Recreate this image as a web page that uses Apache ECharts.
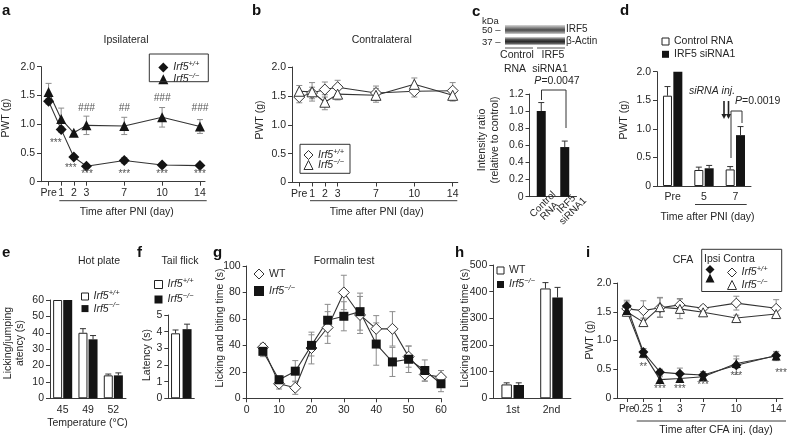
<!DOCTYPE html>
<html><head><meta charset="utf-8">
<script src="https://cdn.jsdelivr.net/npm/echarts@6/dist/echarts.min.js"></script>
<style>html,body{margin:0;padding:0;background:#fff}#c{width:788px;height:435px}</style>
</head><body><div id="c"></div>
<script>
// ---------------- DATA ----------------
const pniLabels = ['Pre','1','2','3','7','10','14'];
const pniPos = [0,1,2,3,6,9,12];
const aWT = [1.40,0.91,0.43,0.27,0.37,0.29,0.28];
const aWTErr = [0.05,0.05,0.03,0.03,0.05,0.03,0.03];
const aKO = [1.56,1.09,0.85,0.98,0.97,1.12,0.96];
const aKOErr = [0.15,0.19,0.03,0.16,0.15,0.17,0.12];
const aStars = ['***','***','***','***','***','***'];
const aHash = ['###','##','###','###'];

const bWT = [1.48,1.55,1.61,1.65,1.55,1.58,1.59];
const bWTErr = [0.10,0.10,0.13,0.12,0.12,0.10,0.14];
const bKO = [1.58,1.57,1.39,1.53,1.51,1.70,1.51];
const bKOErr = [0.10,0.16,0.13,0.10,0.12,0.11,0.10];

const cCats = ['Control\nRNA','IRF5\nsiRNA1'];
const cVal = [1.0,0.58];
const cErr = [0.10,0.07];

const dCats = ['Pre','5','7'];
const dCtrl = [1.58,0.28,0.29];
const dCtrlErr = [0.16,0.05,0.05];
const dSi = [2.0,0.31,0.89];
const dSiErr = [0,0.05,0.15];

const eCats = ['45','49','52'];
const eWT = [60,40,14];
const eWTErr = [0,2.5,0.8];
const eKO = [60,36,14];
const eKOErr = [0,2.3,1.5];

const fWT = [3.9];
const fWTErr = [0.2];
const fKO = [4.15];
const fKOErr = [0.3];

const gMin = [5,10,15,20,25,30,35,40,45,50,55,60];
const gWT = [38.5,11,8,38,53.5,80,63,52.5,52.5,31.5,18,16];
const gWTErr = [3,4,5,12,12,13,14,10,13,8,5,5];
const gKO = [35.5,14,20.5,40,59,62,65.5,41,27.5,29.5,21,11];
const gKOErr = [4,3,8,8,12,11,14,16,11,10,8,6];

const hCats = ['1st','2nd'];
const hWT = [52,412];
const hWTErr = [6,22];
const hKO = [50,378];
const hKOErr = [8,38];

const cfaLabels = ['Pre','0.25','1','3','7','10','14'];
const cfaPos = [0,1,2,3.2,4.6,6.6,9];
const iIpsiWT = [1.60,0.80,0.45,0.42,0.40,0.57,0.74];
const iIpsiWTErr = [0.10,0.06,0.05,0.10,0.06,0.16,0.06];
const iIpsiKO = [1.52,0.78,0.32,0.34,0.37,0.60,0.73];
const iIpsiKOErr = [0.05,0.08,0.05,0.05,0.05,0.08,0.08];
const iConWT = [1.55,1.52,1.57,1.62,1.56,1.65,1.56];
const iConWTErr = [0.12,0.17,0.17,0.11,0.05,0.12,0.15];
const iConKO = [1.50,1.32,1.58,1.55,1.49,1.39,1.46];
const iConKOErr = [0.05,0.07,0.17,0.17,0.05,0.05,0.07];
const iStars = ['**','***','***','***','***','***'];

// ---------------- STYLE ----------------
const F = "'Liberation Sans', Arial, Helvetica, sans-serif";
const TXT = '#262626', AX = '#3a3a3a', ERR = '#8c8c8c', LN = '#333', BLK = '#141414';
const FS = 10.5;

const grids = [
  {left:41, top:66.7, width:164, height:115},      // a
  {left:292, top:67, width:165.8, height:115.5},   // b
  {left:529.5, top:94, width:47, height:102.7},    // c
  {left:657, top:71.7, width:94, height:114.3},    // d
  {left:50, top:300, width:76, height:98.3},       // e
  {left:168.3, top:315, width:26, height:83.3},    // f
  {left:246.7, top:266, width:194.3, height:132.3},// g
  {left:493.3, top:265, width:77.6, height:133.3}, // h
  {left:617.3, top:283, width:165.5, height:115}   // i
];

const dec = v => v === 0 ? '0' : v.toFixed(1);
function yAx(g, min, max, interval, fmt) {
  return {type:'value', gridIndex:g, min, max, interval,
    axisLine:{show:true, onZero:false, lineStyle:{color:AX, width:1}},
    axisTick:{show:true, length:4, lineStyle:{color:AX}},
    splitLine:{show:false},
    axisLabel:{color:TXT, fontSize:FS, fontFamily:F, margin:6, formatter:fmt, hideOverlap:false}};
}
function xVal(g, min, max, tickPos, labelPos, pos, labels, fs, hidden) {
  return {type:'value', gridIndex:g, min, max, position:'bottom', offset:0,
    axisLine:{show:!hidden, onZero:false, lineStyle:{color:AX}},
    axisTick:{show:!hidden, length:4, customValues:tickPos, lineStyle:{color:AX}},
    splitLine:{show:false},
    axisLabel:{customValues:labelPos, color:TXT, fontSize:fs || FS, fontFamily:F, margin:6, hideOverlap:false,
      showMinLabel:true, showMaxLabel:true,
      formatter: v => { const k = pos.findIndex(p => Math.abs(p - v) < 1e-6); return k >= 0 ? labels[k] : ''; }}};
}
function xCat(g, data, extra) {
  return Object.assign({type:'category', gridIndex:g, data,
    axisLine:{show:true, onZero:false, lineStyle:{color:AX}},
    axisTick:{show:false},
    axisLabel:{color:TXT, fontSize:FS, fontFamily:F, margin:6, interval:0, hideOverlap:false}}, extra || {});
}

const xAxis = [
  xVal(0, -0.6, 12.4, pniPos, pniPos, pniPos, pniLabels),
  xVal(1, -0.57, 12.4, pniPos, pniPos, pniPos, pniLabels),
  xCat(2, cCats, {axisLabel:{color:TXT, fontSize:10, fontFamily:F, margin:16, rotate:45, align:'center',
    verticalAlign:'middle', lineHeight:9.5, padding:[0,0,0,14], interval:0, hideOverlap:false}}),
  xCat(3, dCats),
  xCat(4, eCats),
  xCat(5, [''], {axisLabel:{show:false}}),
  {type:'value', gridIndex:6, min:0, max:60, interval:10,
    axisLine:{show:true, onZero:false, lineStyle:{color:AX}},
    axisTick:{show:true, length:4, lineStyle:{color:AX}}, splitLine:{show:false},
    axisLabel:{color:TXT, fontSize:FS, fontFamily:F, margin:6}},
  xCat(7, hCats),
  // i: main axis (all ticks, labels except the crowded second one) + label-only twin axis
  xVal(8, -0.57, 9.4, cfaPos, cfaPos.filter((p, k) => k !== 1), cfaPos, cfaLabels, 10),
  xVal(8, -0.57, 9.4, [], [cfaPos[1]], cfaPos, cfaLabels, 10, true)
];
const yAxis = [
  yAx(0, 0, 2, 0.5, dec), yAx(1, 0, 2, 0.5, dec), yAx(2, 0, 1.2, 0.2, dec),
  yAx(3, 0, 2, 0.5, dec), yAx(4, 0, 60, 10), yAx(5, 0, 5, 1),
  yAx(6, 0, 100, 20), yAx(7, 0, 500, 100), yAx(8, 0, 2, 0.5, dec)
];

const series = [];
const filled = {color:BLK, borderWidth:0};
const hollow = {color:'#fff', borderColor:LN, borderWidth:1};

function pairs(pos, vals) { return vals.map((v, k) => [pos[k], v]); }
function triples(pos, vals, errs) { return vals.map((v, k) => [pos[k], v, errs[k]]); }

function errSeries(g, data, opt) {
  opt = opt || {};
  series.push({type:'custom', xAxisIndex:g, yAxisIndex:g, z:1, silent:true, clip:false, data,
    renderItem: (p, api) => {
      const x = api.value(0), y = api.value(1), e = api.value(2);
      if (!(e > 0)) return null;
      const top = api.coord([x, y + e]), mid = api.coord([x, y]), bot = api.coord([x, y - e]);
      const X = top[0] + (opt.dx || 0), cw = opt.cap || 3;
      const st = {stroke: opt.color || ERR, lineWidth: 1};
      const ch = [
        {type:'line', shape:{x1:X, y1:top[1], x2:X, y2: opt.up ? mid[1] : bot[1]}, style:st},
        {type:'line', shape:{x1:X - cw, y1:top[1], x2:X + cw, y2:top[1]}, style:st}
      ];
      if (!opt.up) ch.push({type:'line', shape:{x1:X - cw, y1:bot[1], x2:X + cw, y2:bot[1]}, style:st});
      return {type:'group', children:ch};
    }});
}
function lineSeries(g, name, data, symbol, size, style) {
  series.push({type:'line', name, xAxisIndex:g, yAxisIndex:g, z:3, data, symbol, symbolSize:size,
    showSymbol:true, lineStyle:{color:LN, width:1.1}, itemStyle:style, emphasis:{disabled:true}});
}
function barSeries(g, name, data, w, gap, style) {
  series.push({type:'bar', name, xAxisIndex:g, yAxisIndex:g, z:2, data, barWidth:w, barGap:gap,
    itemStyle:style, emphasis:{disabled:true}});
}
function annSeries(g, items, texts, fontStyle) {
  series.push({type:'custom', xAxisIndex:g, yAxisIndex:g, z:5, silent:true, clip:false,
    data: items,
    renderItem: (p, api) => {
      const c = api.coord([api.value(0), api.value(1)]);
      return {type:'text', x:c[0], y:c[1], style:{text:texts[p.dataIndex], fill:'#555', fontSize:10,
        fontFamily:F, fontStyle:fontStyle || 'normal', align:'center', verticalAlign:'middle'}};
    }});
}

// a
errSeries(0, triples(pniPos, aKO, aKOErr));
errSeries(0, triples(pniPos, aWT, aWTErr));
lineSeries(0, 'a_wt', pairs(pniPos, aWT), 'diamond', 11, filled);
lineSeries(0, 'a_ko', pairs(pniPos, aKO), 'triangle', 10, filled);
annSeries(0, [[0.57,0.67],[1.76,0.24],[3.05,0.13],[6,0.13],[9,0.13],[12,0.13]], aStars);
annSeries(0, [[3,1.28],[6,1.28],[9,1.46],[12,1.28]], aHash, 'italic');
// b
errSeries(1, triples(pniPos, bWT, bWTErr));
errSeries(1, triples(pniPos, bKO, bKOErr));
lineSeries(1, 'b_wt', pairs(pniPos, bWT), 'diamond', 11, hollow);
lineSeries(1, 'b_ko', pairs(pniPos, bKO), 'triangle', 10, hollow);
// c
barSeries(2, 'c_bar', cVal, 9, '0%', {color:BLK});
errSeries(2, triples([0,1], cVal, cErr), {up:true, color:'#333', cap:3});
// d
const dW = 9, dGap = 0.15, dOff = dW * (1 + dGap) / 2;
barSeries(3, 'd_ctrl', dCtrl, dW, (dGap*100)+'%', {color:'#fff', borderColor:'#222', borderWidth:1});
barSeries(3, 'd_si', dSi, dW, (dGap*100)+'%', {color:BLK});
errSeries(3, triples([0,1,2], dCtrl, dCtrlErr), {up:true, color:'#333', dx:-dOff, cap:3});
errSeries(3, triples([0,1,2], dSi, dSiErr), {up:true, color:'#333', dx:dOff, cap:3});
// e
const eW = 9, eGap = 0.12, eOff = eW * (1 + eGap) / 2;
barSeries(4, 'e_wt', eWT, eW, (eGap*100)+'%', {color:'#fff', borderColor:'#222', borderWidth:1});
barSeries(4, 'e_ko', eKO, eW, (eGap*100)+'%', {color:BLK});
errSeries(4, triples([0,1,2], eWT, eWTErr), {up:true, color:'#333', dx:-eOff, cap:3});
errSeries(4, triples([0,1,2], eKO, eKOErr), {up:true, color:'#333', dx:eOff, cap:3});
// f
const fW = 9, fGap = 0.28, fOff = fW * (1 + fGap) / 2;
barSeries(5, 'f_wt', fWT, fW, (fGap*100)+'%', {color:'#fff', borderColor:'#222', borderWidth:1});
barSeries(5, 'f_ko', fKO, fW, (fGap*100)+'%', {color:BLK});
errSeries(5, triples([0], fWT, fWTErr), {up:true, color:'#333', dx:-fOff, cap:3});
errSeries(5, triples([0], fKO, fKOErr), {up:true, color:'#333', dx:fOff, cap:3});
// g
errSeries(6, triples(gMin, gWT, gWTErr));
errSeries(6, triples(gMin, gKO, gKOErr));
lineSeries(6, 'g_wt', pairs(gMin, gWT), 'diamond', 11, hollow);
lineSeries(6, 'g_ko', pairs(gMin, gKO), 'rect', 9, filled);
// h
const hW = 10.5, hGap = 0.15, hOff = hW * (1 + hGap) / 2;
barSeries(7, 'h_wt', hWT, hW, (hGap*100)+'%', {color:'#fff', borderColor:'#222', borderWidth:1});
barSeries(7, 'h_ko', hKO, hW, (hGap*100)+'%', {color:BLK});
errSeries(7, triples([0,1], hWT, hWTErr), {up:true, color:'#333', dx:-hOff, cap:3});
errSeries(7, triples([0,1], hKO, hKOErr), {up:true, color:'#333', dx:hOff, cap:3});
// i
errSeries(8, triples(cfaPos, iConWT, iConWTErr));
errSeries(8, triples(cfaPos, iConKO, iConKOErr));
errSeries(8, triples(cfaPos, iIpsiWT, iIpsiWTErr));
errSeries(8, triples(cfaPos, iIpsiKO, iIpsiKOErr));
lineSeries(8, 'i_cwt', pairs(cfaPos, iConWT), 'diamond', 10, hollow);
lineSeries(8, 'i_cko', pairs(cfaPos, iConKO), 'triangle', 9, hollow);
lineSeries(8, 'i_iwt', pairs(cfaPos, iIpsiWT), 'diamond', 10, filled);
lineSeries(8, 'i_iko', pairs(cfaPos, iIpsiKO), 'triangle', 9, filled);
annSeries(8, [[1,0.54],[2,0.15],[3.2,0.15],[4.6,0.22],[6.6,0.37],[9.29,0.43]], iStars);

// ---------------- LEGENDS ----------------
const WTSUP = '{i|Irf5}{s|+/+}', KOSUP = '{i|Irf5}{s|\u2212/\u2212}';
const LBL = {a_wt:WTSUP, a_ko:KOSUP, b_wt:WTSUP, b_ko:KOSUP,
  d_ctrl:'{p|Control RNA}', d_si:'{p|IRF5 siRNA1}', e_wt:WTSUP, e_ko:KOSUP, f_wt:WTSUP, f_ko:KOSUP,
  g_wt:'{p|WT}', g_ko:KOSUP, h_wt:'{p|WT}', h_ko:KOSUP, i_cwt:WTSUP, i_cko:KOSUP, i_iwt:'', i_iko:''};
const rich = {
  i:{fontStyle:'italic', fontSize:FS, fontFamily:F, color:TXT, lineHeight:15},
  s:{fontStyle:'italic', fontSize:7.5, fontFamily:F, color:TXT, verticalAlign:'top', lineHeight:9},
  p:{fontSize:FS, fontFamily:F, color:TXT, lineHeight:15}
};
function leg(left, top, gap, iw, items) {
  return {show:true, orient:'vertical', left, top, itemGap:gap, itemWidth:iw, itemHeight:iw, padding:0,
    selectedMode:false, formatter: n => LBL[n], textStyle:{rich, fontFamily:F, fontSize:FS, color:TXT},
    data: items.map(d => ({name:d[0], icon:d[1], itemStyle:d[2]}))};
}
const openBox = {color:'#fff', borderColor:'#222', borderWidth:1};
const legend = [
  leg(158.3, 60, -1.3, 10, [['a_wt','diamond',filled],['a_ko','triangle',filled]]),
  leg(303.5, 147.5, -3, 9, [['b_wt','diamond',hollow],['b_ko','triangle',hollow]]),
  leg(661.5, 36, 1.8, 7, [['d_ctrl','rect',openBox],['d_si','rect',{color:BLK}]]),
  leg(81, 289, -0.9, 7, [['e_wt','rect',openBox],['e_ko','rect',{color:BLK}]]),
  leg(154, 277, 2, 8, [['f_wt','rect',openBox],['f_ko','rect',{color:BLK}]]),
  leg(253.5, 268.5, 4, 10, [['g_wt','diamond',hollow],['g_ko','rect',filled]]),
  leg(496.5, 265, 1, 7, [['h_wt','rect',openBox],['h_ko','rect',{color:BLK}]]),
  leg(705.5, 265, -0.5, 9, [['i_iwt','diamond',filled],['i_iko','triangle',filled]]),
  leg(727, 265, -0.5, 9, [['i_cwt','diamond',hollow],['i_cko','triangle',hollow]])
];

// ---------------- GRAPHICS (labels, titles, annotations) ----------------
function T(x, y, text, o) {
  o = o || {};
  return {type:'text', x, y, rotation:o.rot || 0, z:100, silent:true,
    style:{text, fill:o.color || TXT, fontSize:o.size || FS, fontFamily:F,
      fontWeight:o.weight || 'normal', fontStyle:o.style || 'normal',
      align:o.align || 'center', verticalAlign:'middle', lineHeight:o.lh, rich:o.rich}};
}
function L(x1, y1, x2, y2, c, w) {
  return {type:'line', z:100, silent:true, shape:{x1, y1, x2, y2}, style:{stroke:c || AX, lineWidth:w || 1}};
}
function R(x, y, w, h, fill, stroke) {
  return {type:'rect', z:99, silent:true, shape:{x, y, width:w, height:h}, style:{fill:fill || 'none', stroke:stroke || null, lineWidth:1}};
}
function arrow(x, y1, y2) {
  return [L(x, y1, x, y2 - 4, '#222', 1.6),
    {type:'polygon', z:100, silent:true, shape:{points:[[x - 2.6, y2 - 5], [x + 2.6, y2 - 5], [x, y2]]}, style:{fill:'#222'}}];
}
const R90 = Math.PI / 2;
const bandGrad = (a, b) => new echarts.graphic.LinearGradient(0, 0, 0, 1, [
  {offset:0, color:'#d8d8d8'}, {offset:0.3, color:a}, {offset:0.55, color:b}, {offset:0.8, color:a}, {offset:1, color:'#d0d0d0'}]);
const pRich = {it:{fontStyle:'italic', fontSize:FS, fontFamily:F, color:TXT}, n:{fontSize:FS, fontFamily:F, color:TXT}};

const graphic = [
  // panel letters
  T(2, 11, 'a', {weight:'bold', size:15, align:'left', color:'#111'}),
  T(252, 11, 'b', {weight:'bold', size:15, align:'left', color:'#111'}),
  T(472, 12, 'c', {weight:'bold', size:15, align:'left', color:'#111'}),
  T(620, 11, 'd', {weight:'bold', size:15, align:'left', color:'#111'}),
  T(2, 253, 'e', {weight:'bold', size:15, align:'left', color:'#111'}),
  T(137, 253, 'f', {weight:'bold', size:15, align:'left', color:'#111'}),
  T(213, 253, 'g', {weight:'bold', size:15, align:'left', color:'#111'}),
  T(455, 253, 'h', {weight:'bold', size:15, align:'left', color:'#111'}),
  T(586, 253, 'i', {weight:'bold', size:15, align:'left', color:'#111'}),
  // titles
  T(126, 40, 'Ipsilateral'), T(381.7, 40, 'Contralateral'),
  T(99, 261, 'Hot plate'), T(180, 261, 'Tail flick'), T(344, 261, 'Formalin test'), T(683, 260, 'CFA'),
  // x titles and underlines
  L(59.3, 200.7, 206.7, 200.7), T(126.7, 211.7, 'Time after PNI (day)'),
  L(310, 200.7, 457.3, 200.7), T(376.7, 211.7, 'Time after PNI (day)'),
  L(695, 204.5, 746.7, 204.5), T(707.5, 216.7, 'Time after PNI (day)'),
  T(87.5, 422.7, 'Temperature (\u00b0C)'),
  L(636.7, 421, 786, 421), T(716, 430.5, 'Time after CFA inj. (day)'),
  // y titles
  T(6, 118, 'PWT (g)', {rot:R90}), T(260, 120, 'PWT (g)', {rot:R90}),
  T(624, 120, 'PWT (g)', {rot:R90}), T(590, 340, 'PWT (g)', {rot:R90}),
  T(489, 140, 'Intensity ratio\n(relative to control)', {rot:R90, lh:13}),
  T(14, 343, 'Licking/jumping\natency (s)', {rot:R90, lh:12.5}),
  T(147.5, 355, 'Latency (s)', {rot:R90}),
  T(220, 328, 'Licking and biting time (s)', {rot:R90}),
  T(465, 328, 'Licking and biting time (s)', {rot:R90}),
  // legend boxes
  R(149.3, 54, 59, 27.7, 'none', '#333'),
  R(300, 144.3, 50, 29, 'none', '#333'),
  R(701.7, 249.3, 80, 42.2, 'none', '#333'),
  T(704, 259, 'Ipsi Contra', {align:'left'}),
  // western blot
  R(505, 25, 60, 9, bandGrad('#8a8a8a', '#4a4a4a')),
  R(505, 37, 60, 8, bandGrad('#555', '#2a2a2a')),
  T(482, 21, 'kDa', {align:'left', size:9.5}),
  T(482, 30, '50 \u2013', {align:'left', size:9.5}),
  T(482, 42.5, '37 \u2013', {align:'left', size:9.5}),
  T(566, 29.5, 'IRF5', {align:'left', size:10}),
  T(566, 41.5, '\u03b2-Actin', {align:'left', size:10}),
  L(505, 48, 533, 48, '#555'), L(537, 48, 565, 48, '#555'),
  T(517, 55, 'Control'), T(515, 69, 'RNA'), T(553, 55, 'IRF5'), T(550, 69, 'siRNA1'),
  T(557, 81, '{it|P}{n|=0.0047}', {rich:pRich}),
  {type:'polyline', z:100, silent:true, shape:{points:[[541.5, 100], [541.5, 90], [566, 90], [566, 128]]}, style:{stroke:'#333', fill:null, lineWidth:1}},
  // panel d annotations
  T(712, 91, 'siRNA inj.', {style:'italic'}),
  ...arrow(724, 101, 119), ...arrow(728.5, 101, 119),
  T(735, 101, '{it|P}{n|=0.0019}', {rich:pRich, align:'left'}),
  {type:'polyline', z:100, silent:true, shape:{points:[[731, 158], [731, 111], [742, 111], [742, 123]]}, style:{stroke:'#333', fill:null, lineWidth:1}}
];

const chart = echarts.init(document.getElementById('c'), null, {renderer:'canvas'});
chart.setOption({
  animation:false, backgroundColor:'#fff',
  textStyle:{fontFamily:F},
  grid:grids, xAxis, yAxis, series, legend, graphic
});
</script></body></html>
